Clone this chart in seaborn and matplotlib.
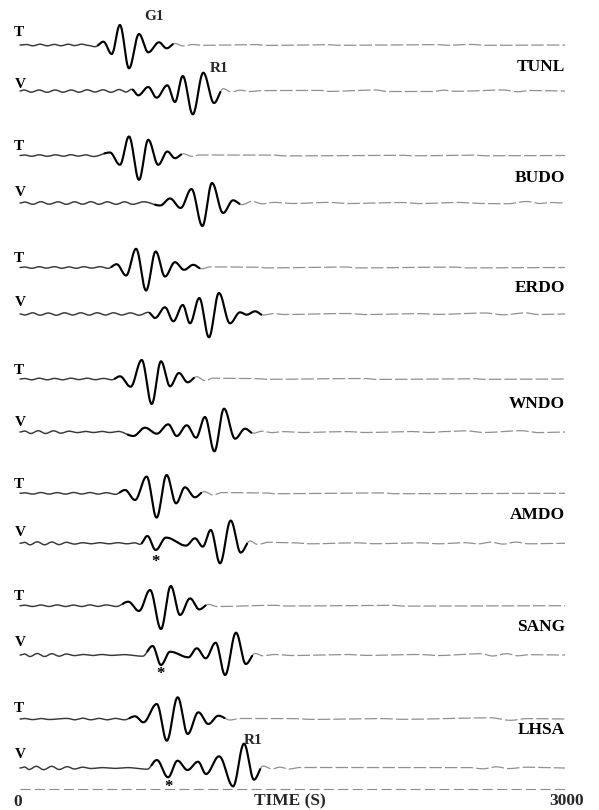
import numpy as np
import pandas as pd
import matplotlib
matplotlib.use("Agg")
import matplotlib.pyplot as plt
import seaborn as sns

# ---------------- data ----------------
# stations, top to bottom
stations = ["TUNL", "BUDO", "ERDO", "WNDO", "AMDO", "SANG", "LHSA"]
components = ["T", "V"]

# Extrema of each trace: time (s) and amplitude (display units, up = positive)
TUNL_T_t = [35, 70, 110, 150, 190, 225, 265, 300, 340, 375, 413, 459, 505, 550, 600, 655, 706, 765, 807, 853, 897, 950, 1010, 1300, 1350, 1700, 1750, 2300, 2350, 2480, 2560]
TUNL_T_a = [0.5, -0.8, 0.8, -0.8, 0.6, -0.8, 0.8, -0.6, 0.8, -0.4, -1.7, 3.3, -9, 20, -23.3, 11, -7.3, 2.7, -3.3, 1.5, -1, 0.5, -0.3, 0.4, -0.4, 0.3, -0.3, 0.4, -0.3, 0.6, -0.3]
TUNL_V_t = [22, 61, 105, 149, 193, 237, 281, 325, 369, 413, 457, 501, 545, 584, 615, 651, 706, 752, 811, 853, 896, 951, 1009, 1068, 1119, 1162, 1211, 1265, 1330, 1650, 1700, 1960, 2020, 2270, 2330, 2400, 2660, 2740, 2800]
TUNL_V_a = [1, -1.2, 1, -1.3, 1, -1.2, 1, -1.2, 1.2, -1, 1.2, -1.3, 1.5, -1, 1.7, -4.3, 4, -6.7, 5.7, -11, 15, -23.3, 18.3, -12, 2.3, -1, 0.8, -0.5, 0.4, 0.6, -0.4, 1.0, -0.5, -0.6, 0.8, -0.3, 1.0, -0.8, 0.5]

BUDO_T_t = [25, 65, 105, 150, 195, 240, 280, 320, 363, 403, 495, 550, 600, 655, 706, 761, 811, 853, 899, 945, 990, 1400, 1450, 2100, 2150, 2500, 2560]
BUDO_T_a = [0.5, -0.8, 0.7, -0.8, 0.7, -0.7, 0.8, -0.6, 0.6, -1.0, 3, -9.3, 19, -24.3, 15.7, -9.3, 4, -2.7, 1.7, -0.8, 0.5, 0.4, -0.4, 0.3, -0.3, 0.4, -0.3]
BUDO_V_t = [25, 70, 115, 160, 210, 255, 300, 345, 390, 435, 480, 530, 575, 620, 680, 771, 826, 884, 944, 1004, 1057, 1118, 1173, 1222, 1277, 1332, 1400, 1500, 1700, 1800, 2100, 2200, 2400, 2550, 2680, 2790, 2860, 2920]
BUDO_V_a = [1, -1.3, 1.3, -1.2, 1.2, -1.3, 1.2, -1.2, 1.3, -1.3, 1.2, -1.3, 1.2, -1.3, 1.2, -2.5, 4.5, -5, 14, -23, 20, -10, 2.7, -1.7, 1.7, -0.8, 0.6, -0.5, 0.6, -0.5, 0.5, -0.6, 0.6, -0.5, -0.8, 1.5, -0.5, 0.5]

ERDO_T_t = [25, 65, 105, 145, 190, 230, 270, 310, 350, 395, 440, 485, 532, 584, 639, 694, 747, 798, 853, 903, 954, 1000, 1046, 1300, 1350, 1800, 1850, 2400, 2450]
ERDO_T_a = [0.5, -0.8, 0.8, -0.6, 0.8, -0.8, 0.6, -0.8, 0.8, -0.6, 0.8, -0.8, 3.3, -8, 18.7, -23, 16, -9, 5.3, -2.3, 2.7, -1.3, 0.6, 0.4, -0.4, 0.5, -0.4, 0.4, -0.4]
ERDO_V_t = [25, 70, 110, 155, 200, 245, 290, 335, 380, 425, 470, 515, 560, 608, 655, 706, 743, 798, 844, 896, 936, 987, 1040, 1095, 1156, 1211, 1248, 1294, 1338, 1400, 1450, 1800, 1900, 2200, 2300, 2560, 2660, 2780, 2850]
ERDO_V_a = [-1, 1.2, -1.2, 1, -1.2, 1.2, -1, 1.2, -1.1, 1.2, -1, 1.2, -1, 1.1, -1.2, 1.7, -4, 6.7, -7.3, 9, -9.3, 16, -23.3, 21, -9.3, 1.7, -0.7, 2.7, -1, 0.5, -0.5, 0.5, -0.5, 0.4, -0.4, 1.0, -0.8, 1.2, -0.5]

WNDO_T_t = [25, 65, 105, 150, 190, 235, 280, 325, 370, 415, 460, 505, 550, 609, 670, 725, 776, 826, 875, 923, 973, 1018, 1062, 1300, 1350, 1900, 1960, 2500, 2550]
WNDO_T_a = [0.5, -0.8, 0.8, -0.8, 0.6, -0.8, 0.8, -0.6, 0.8, -0.7, 0.6, -0.8, 2.7, -7.7, 19, -25, 17.7, -7.3, 6, -3.3, 2.3, -1.7, 0.8, 0.4, -0.3, 0.5, -0.4, 0.3, -0.3]
WNDO_V_t = [25, 60, 100, 140, 185, 225, 270, 315, 360, 405, 450, 495, 540, 624, 688, 753, 816, 863, 918, 969, 1018, 1070, 1123, 1184, 1239, 1284, 1332, 1387, 1450, 1550, 1800, 1900, 2150, 2250, 2350, 2450, 2550, 2760, 2850]
WNDO_V_a = [1, -1.5, 1.3, -1.5, 1.2, -1.2, 0.8, -0.6, 0.6, -0.5, 0.6, -0.5, 0.6, -4, 4.3, -1.7, 7.7, -4, 6.7, -5.7, 15, -19.3, 23.3, -6.7, 3.3, -1.2, 0.8, -0.6, 0.4, -0.5, 0.4, -0.5, 0.5, -0.5, 0.5, 1.2, -0.5, 1.3, -0.6]

AMDO_T_t = [25, 70, 115, 160, 205, 250, 295, 340, 385, 430, 475, 525, 578, 633, 697, 752, 807, 859, 908, 963, 1013, 1064, 1112, 1350, 1400, 2000, 2060]
AMDO_T_a = [0.5, -0.8, 0.8, -0.8, 0.7, -0.8, 0.8, -0.7, 0.8, -0.8, 0.6, -1.0, 3.3, -6.7, 16.7, -24.3, 18.3, -10, 6, -4, 1.7, -1.7, 0.7, 0.4, -0.4, 0.4, -0.4]
AMDO_V_t = [25, 55, 95, 135, 175, 215, 255, 300, 345, 390, 440, 490, 540, 590, 630, 661, 701, 747, 804, 914, 963, 1006, 1050, 1101, 1160, 1215, 1266, 1310, 1365, 1500, 1600, 1850, 1950, 2200, 2300, 2450, 2520, 2590, 2660, 2730, 2800]
AMDO_V_a = [1, -1.5, 1.5, -1.5, 1.3, -1.3, 1, -0.8, 0.6, -0.5, 0.6, -0.5, 0.6, -0.5, 0.5, -1, 7.3, -6.7, 5.7, -2.3, 5, -3.3, 13.3, -20, 22.7, -9.3, 2.3, -1.2, 1, 0.5, -0.5, 0.5, -0.4, 0.5, -0.5, 0.6, -0.6, 1.2, -0.8, 1.2, -0.5]

SANG_T_t = [25, 70, 115, 160, 205, 250, 295, 340, 385, 430, 475, 530, 596, 655, 716, 776, 830, 881, 936, 987, 1037, 1085, 1400, 1460, 2050, 2110]
SANG_T_a = [0.5, -0.8, 0.7, -0.8, 0.8, -0.8, 0.6, -0.8, 0.8, -0.7, 0.8, -0.8, 4, -5.3, 15.7, -23.3, 19.7, -9.3, 7.3, -3.7, 1.3, -0.8, 0.4, -0.3, 0.4, -0.4]
SANG_V_t = [25, 55, 95, 135, 175, 215, 255, 300, 350, 400, 450, 500, 570, 675, 730, 776, 826, 927, 973, 1022, 1077, 1129, 1189, 1243, 1294, 1338, 1400, 1500, 1800, 1900, 2200, 2300, 2540, 2600, 2680, 2740, 2800]
SANG_V_a = [1, -1.5, 1.5, -1.5, 1.3, -1.2, 1, -0.6, 0.5, -0.5, 0.5, -0.4, 0.4, -1.2, 9, -10, 3.3, -2.3, 6.7, -3.3, 12.3, -20, 22.3, -9, 1.5, -0.8, 0.5, -0.5, 0.5, -0.4, 0.5, -0.5, 1.3, -1, 1.3, -0.8, 0.3]

LHSA_T_t = [25, 70, 115, 160, 260, 300, 345, 390, 435, 480, 525, 575, 633, 679, 753, 808, 868, 923, 982, 1037, 1092, 1156, 1211, 1500, 1600, 2000, 2100, 2590, 2700, 2790]
LHSA_T_a = [0.5, -0.6, 0.5, -0.5, 0.6, -0.8, 0.8, -0.8, 0.6, -0.8, 0.6, -0.8, 2.7, -3.3, 15, -21.7, 21.7, -15, 6.7, -5, 3.3, -1, 0.5, 0.4, -0.4, 0.4, -0.3, 1.2, -1.3, 0.4]
LHSA_V_t = [25, 50, 90, 130, 175, 215, 260, 300, 345, 390, 450, 520, 590, 700, 753, 815, 867, 922, 980, 1024, 1096, 1173, 1233, 1288, 1338, 1387, 1430, 1480, 1540, 2460, 2550, 2620, 2690, 2780]
LHSA_V_a = [1, -1.5, 1.7, -1.7, 1.7, -1.5, 1.3, -1, 0.8, -0.5, 0.4, -0.4, 0.4, -1.2, 8, -9.3, 7.3, -2, 6.3, -6, 11.7, -18.3, 24.3, -11.7, 2, -1, 0.8, -1, 0.5, 0.6, -0.8, 1.2, -0.6, 0.8]

# phase marks
star_times = {"AMDO": 747, "SANG": 776, "LHSA": 815}
time_range = [0, 3000]
axis_labels = ["0", "TIME (S)", "3000"]

# ---------------- layout ----------------
T_base = [45, 155.5, 267.5, 379, 493.3, 605.7, 719]     # baseline rows (px)
V_base = [91, 203, 314, 432, 543.3, 655, 768]
T_lab_y = [32, 147, 258, 370, 485, 597, 708]
V_lab_y = [85, 192, 303, 422, 532, 643, 755]
name_y = [67, 178, 288, 404, 515, 627, 730]

traces = {
    ("TUNL", "T"): (TUNL_T_t, TUNL_T_a), ("TUNL", "V"): (TUNL_V_t, TUNL_V_a),
    ("BUDO", "T"): (BUDO_T_t, BUDO_T_a), ("BUDO", "V"): (BUDO_V_t, BUDO_V_a),
    ("ERDO", "T"): (ERDO_T_t, ERDO_T_a), ("ERDO", "V"): (ERDO_V_t, ERDO_V_a),
    ("WNDO", "T"): (WNDO_T_t, WNDO_T_a), ("WNDO", "V"): (WNDO_V_t, WNDO_V_a),
    ("AMDO", "T"): (AMDO_T_t, AMDO_T_a), ("AMDO", "V"): (AMDO_V_t, AMDO_V_a),
    ("SANG", "T"): (SANG_T_t, SANG_T_a), ("SANG", "V"): (SANG_V_t, SANG_V_a),
    ("LHSA", "T"): (LHSA_T_t, LHSA_T_a), ("LHSA", "V"): (LHSA_V_t, LHSA_V_a),
}


def smooth_trace(t_ext, a_ext, t0, t1):
    """Smooth curve through the extrema (half-cosine between neighbours)."""
    t = np.concatenate([[t0], t_ext, [t1]]).astype(float)
    a = np.concatenate([[0.0], a_ext, [0.0]]).astype(float)
    tt, aa = [], []
    for i in range(len(t) - 1):
        n = max(6, int((t[i + 1] - t[i]) / 2))
        s = np.linspace(0, 1, n, endpoint=False)
        tt.append(t[i] + (t[i + 1] - t[i]) * s)
        aa.append(a[i] + (a[i + 1] - a[i]) * (1 - np.cos(np.pi * s)) / 2)
    tt.append([t[-1]])
    aa.append([a[-1]])
    return np.concatenate(tt), np.concatenate(aa)


# ---------------- figure ----------------
sns.set_theme(style="white")
plt.rcParams["font.family"] = ["Liberation Serif", "DejaVu Serif"]

W, H = 599, 810
fig = plt.figure(figsize=(W / 100, H / 100), dpi=100)
ax = fig.add_axes([0, 0, 1, 1])
px_per_s = 545 / 3000.0
x0_px = 20
ax.set_xlim(-x0_px / px_per_s, (W - x0_px) / px_per_s)
ax.set_ylim(H, 0)
ax.axis("off")

def px2t(px):
    return (px - x0_px) / px_per_s

for i, st in enumerate(stations):
    for comp, base in (("T", T_base[i]), ("V", V_base[i])):
        te, ae = traces[(st, comp)]
        assert len(te) == len(ae), (st, comp)
        t, a = smooth_trace(te, ae, time_range[0], time_range[1])
        y = base - a
        big = [tt for tt, aa in zip(te, ae) if abs(aa) >= 2.5]
        p0, p1 = min(big) - 30, max(big) + 35
        pre = t <= p0 + 1
        pk = (t >= p0) & (t <= p1)
        tail = t >= p1 - 1
        sns.lineplot(x=t[pre], y=y[pre], ax=ax, color="#383838", lw=1.05,
                     sort=False, estimator=None)
        sns.lineplot(x=t[tail], y=y[tail], ax=ax, color="#909090", lw=0.9,
                     sort=False, estimator=None, linestyle=(0, (10, 2.5)))
        sns.lineplot(x=t[pk], y=y[pk], ax=ax, color="black", lw=1.55,
                     sort=False, estimator=None)
    ax.text(px2t(14), T_lab_y[i], "T", ha="left", va="center",
            fontsize=11, fontweight="bold", color="black")
    ax.text(px2t(15), V_lab_y[i], "V", ha="left", va="center",
            fontsize=11, fontweight="bold", color="black")
    ax.text(px2t(565), name_y[i], st, ha="right", va="center",
            fontsize=12.5, fontweight="bold", color="black")
    if st in star_times:
        ax.text(star_times[st], V_base[i] + 19, "*", ha="center", va="center",
                fontsize=12, fontweight="bold", color="black")

# phase labels
ax.text(px2t(154), 16, "G1", ha="center", va="center", fontsize=11, fontweight="bold")
ax.text(px2t(219), 69, "R1", ha="center", va="center", fontsize=11, fontweight="bold")
ax.text(px2t(253), 741, "R1", ha="center", va="center", fontsize=11, fontweight="bold")

# time axis
ax.plot(time_range, [789, 789], color="#8c8c8c", lw=0.8, ls=(0, (9, 4)))
ax.text(px2t(18), 802, axis_labels[0], ha="center", va="center", fontsize=12.5, fontweight="bold")
ax.text(px2t(290), 801, axis_labels[1], ha="center", va="center", fontsize=12.5, fontweight="bold")
ax.text(px2t(567), 801, axis_labels[2], ha="center", va="center", fontsize=12.5, fontweight="bold")

fig.savefig("out.png", dpi=100, facecolor="white")
